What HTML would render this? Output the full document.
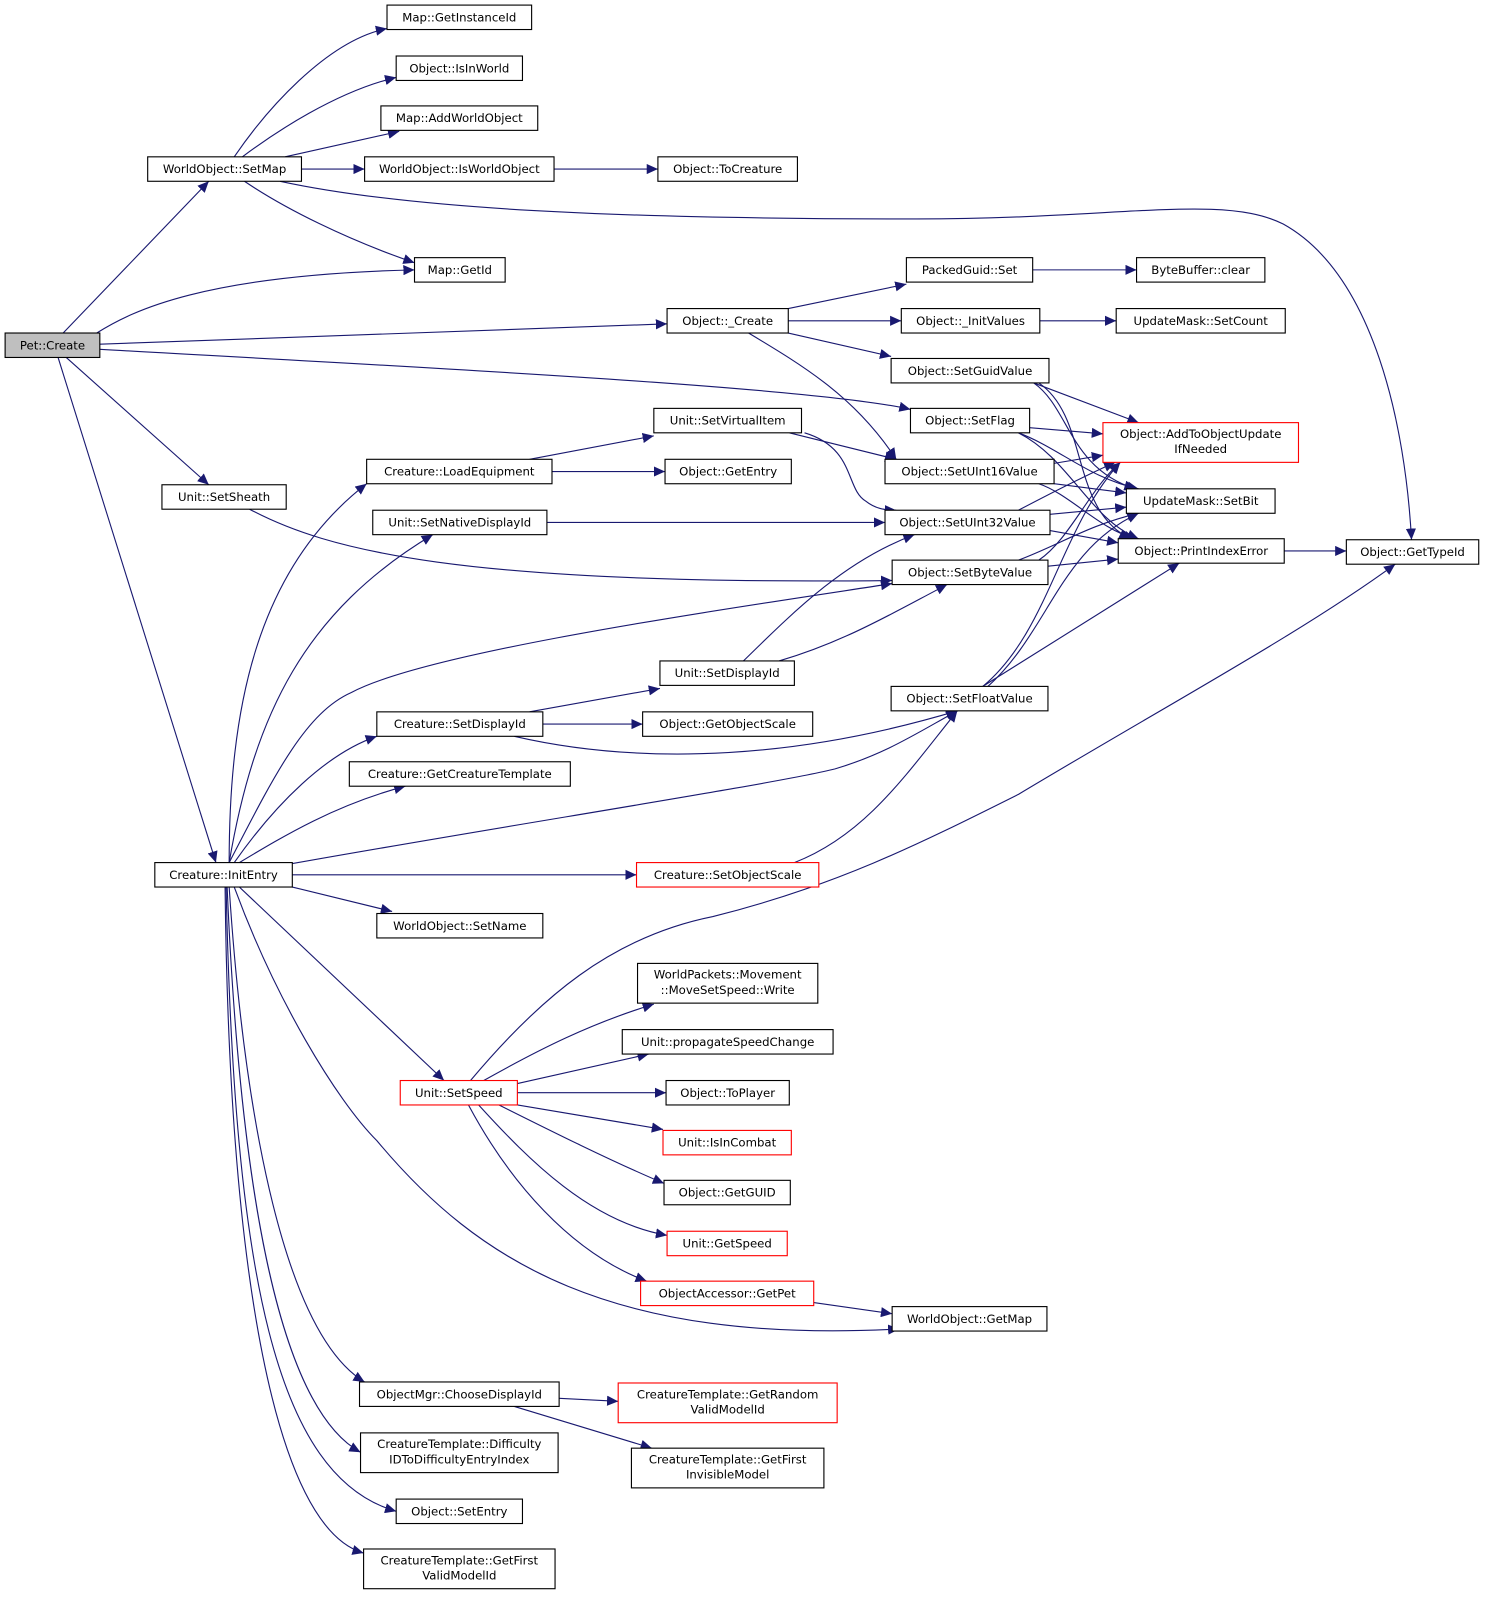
<!DOCTYPE html>
<html><head><meta charset="utf-8"><style>
html,body{margin:0;padding:0;background:#fff;}
svg{display:block;}
text{font-family:"DejaVu Sans","Liberation Sans",sans-serif;font-size:11.5px;fill:#000;}
.e{fill:none;stroke:#191970;stroke-width:1.1;marker-end:url(#a);}
.n{fill:#fff;stroke:#000;stroke-width:1.1;}
.r{fill:#fff;stroke:#ff0000;stroke-width:1.1;}
</style></head><body>
<svg width="1492" height="1605" viewBox="0 0 1465 1576" xmlns="http://www.w3.org/2000/svg">
<defs><marker id="a" markerUnits="userSpaceOnUse" markerWidth="12" markerHeight="10" refX="11" refY="5" orient="auto"><path d="M0,0 L11,5 L0,10 z" fill="#191970"/></marker></defs>
<g>
<path class="e" d="M62,327 L205,178"/>
<path class="e" d="M95,327 C130,305 200,270 407,265"/>
<path class="e" d="M98,338 L655,318"/>
<path class="e" d="M98,343 C400,360 800,380 894,402"/>
<path class="e" d="M65,351 L205,476"/>
<path class="e" d="M57,351 L212,847"/>
<path class="e" d="M230,154 C260,110 320,40 380,28"/>
<path class="e" d="M238,154 C270,130 330,90 389,76"/>
<path class="e" d="M280,154 L392,129"/>
<path class="e" d="M296,166 L358,166"/>
<path class="e" d="M240,178 C280,205 340,235 407,258"/>
<path class="e" d="M275,178 C400,205 600,215 900,215 C1100,215 1200,190 1260,220 C1350,270 1380,420 1386,530"/>
<path class="e" d="M544,166 L646,166"/>
<path class="e" d="M774,303 L890,279"/>
<path class="e" d="M774,315 L885,315"/>
<path class="e" d="M774,327 L875,350"/>
<path class="e" d="M735,327 C790,360 840,390 880,451"/>
<path class="e" d="M1014,265 L1116,265"/>
<path class="e" d="M1021,315 L1096,315"/>
<path class="e" d="M1015,376 L1118,415"/>
<path class="e" d="M1015,376 C1050,400 1050,460 1115,480"/>
<path class="e" d="M1020,376 C1070,410 1050,500 1110,529"/>
<path class="e" d="M1011,420 L1083,426"/>
<path class="e" d="M1000,425 C1040,440 1070,470 1118,480"/>
<path class="e" d="M1000,425 C1050,450 1070,510 1118,529"/>
<path class="e" d="M1035,455 L1083,447"/>
<path class="e" d="M1035,475 L1106,484"/>
<path class="e" d="M1020,475 C1050,485 1080,520 1115,529"/>
<path class="e" d="M1000,501 C1040,480 1070,465 1095,454"/>
<path class="e" d="M1031,505 L1106,498"/>
<path class="e" d="M1031,521 L1098,533"/>
<path class="e" d="M1020,550 C1050,530 1070,480 1100,454"/>
<path class="e" d="M1000,550 C1040,535 1070,515 1118,504"/>
<path class="e" d="M1029,556 L1098,549"/>
<path class="e" d="M965,674 C1030,620 1040,520 1100,454"/>
<path class="e" d="M970,674 C1030,620 1040,540 1118,504"/>
<path class="e" d="M965,674 L1158,553"/>
<path class="e" d="M1261,541 L1322,541"/>
<path class="e" d="M775,425 L880,451"/>
<path class="e" d="M790,425 C840,440 830,480 850,492 C860,500 870,501 880,501"/>
<path class="e" d="M520,451 L642,428"/>
<path class="e" d="M542,463 L653,463"/>
<path class="e" d="M245,500 C320,540 450,575 876,570"/>
<path class="e" d="M537,513 L869,513"/>
<path class="e" d="M730,649 C780,600 830,550 898,525"/>
<path class="e" d="M765,649 C830,630 880,600 930,574"/>
<path class="e" d="M520,699 L648,676"/>
<path class="e" d="M533,711 L631,711"/>
<path class="e" d="M505,723 C600,745 750,755 940,698"/>
<path class="e" d="M780,847 C850,820 890,760 940,698"/>
<path class="e" d="M225,847 C225,700 250,560 360,475"/>
<path class="e" d="M225,847 C250,700 300,600 425,525"/>
<path class="e" d="M225,847 C270,760 300,700 345,680 C420,640 700,600 876,573"/>
<path class="e" d="M230,847 C270,790 320,740 370,723"/>
<path class="e" d="M235,847 C280,820 330,790 398,772"/>
<path class="e" d="M287,848 C500,810 760,770 820,755 C870,740 900,720 940,698"/>
<path class="e" d="M287,859 L625,859"/>
<path class="e" d="M287,871 L385,895"/>
<path class="e" d="M235,871 L436,1061"/>
<path class="e" d="M230,871 C270,980 330,1080 370,1120 C470,1240 600,1320 883,1305"/>
<path class="e" d="M225,871 C240,1100 280,1310 358,1357"/>
<path class="e" d="M223,871 C235,1150 270,1380 354,1426"/>
<path class="e" d="M222,871 C230,1250 270,1450 389,1484"/>
<path class="e" d="M221,871 C225,1250 270,1500 357,1525"/>
<path class="e" d="M462,1061 C530,980 600,920 700,900 C820,870 900,830 1000,780 C1150,690 1280,620 1370,554"/>
<path class="e" d="M475,1061 C530,1030 580,1005 642,986"/>
<path class="e" d="M508,1064 L637,1035"/>
<path class="e" d="M508,1073 L654,1073"/>
<path class="e" d="M508,1085 L651,1109"/>
<path class="e" d="M490,1085 C540,1110 600,1140 652,1162"/>
<path class="e" d="M470,1085 C520,1140 580,1200 655,1213"/>
<path class="e" d="M460,1085 C500,1160 560,1230 635,1258"/>
<path class="e" d="M799,1279 L876,1290"/>
<path class="e" d="M549,1373 L607,1376"/>
<path class="e" d="M505,1381 L640,1422"/>
</g>
<g text-anchor="middle">
<rect x="5" y="327" width="93" height="24" fill="#bfbfbf" stroke="#000" stroke-width="1.1"/><text x="51.5" y="343">Pet::Create</text>
<rect class="n" x="145" y="154" width="151" height="24"/><text x="220.5" y="170">WorldObject::SetMap</text>
<rect class="n" x="380" y="5" width="142" height="24"/><text x="451" y="21">Map::GetInstanceId</text>
<rect class="n" x="389" y="55" width="124" height="24"/><text x="451" y="71">Object::IsInWorld</text>
<rect class="n" x="374" y="104" width="154" height="24"/><text x="451" y="120">Map::AddWorldObject</text>
<rect class="n" x="358" y="154" width="186" height="24"/><text x="451" y="170">WorldObject::IsWorldObject</text>
<rect class="n" x="646" y="154" width="137" height="24"/><text x="714.5" y="170">Object::ToCreature</text>
<rect class="n" x="407" y="253" width="89" height="24"/><text x="451.5" y="269">Map::GetId</text>
<rect class="n" x="655" y="303" width="119" height="24"/><text x="714.5" y="319">Object::_Create</text>
<rect class="n" x="890" y="253" width="124" height="24"/><text x="952" y="269">PackedGuid::Set</text>
<rect class="n" x="1116" y="253" width="126" height="24"/><text x="1179" y="269">ByteBuffer::clear</text>
<rect class="n" x="885" y="303" width="136" height="24"/><text x="953" y="319">Object::_InitValues</text>
<rect class="n" x="1096" y="303" width="166" height="24"/><text x="1179" y="319">UpdateMask::SetCount</text>
<rect class="n" x="875" y="352" width="155" height="24"/><text x="952.5" y="368">Object::SetGuidValue</text>
<rect class="n" x="894" y="401" width="117" height="24"/><text x="952.5" y="417">Object::SetFlag</text>
<rect class="r" x="1083" y="415" width="192" height="39"/><text x="1179" y="430">Object::AddToObjectUpdate</text><text x="1179" y="445">IfNeeded</text>
<rect class="n" x="642" y="401" width="145" height="24"/><text x="714.5" y="417">Unit::SetVirtualItem</text>
<rect class="n" x="360" y="451" width="182" height="24"/><text x="451" y="467">Creature::LoadEquipment</text>
<rect class="n" x="653" y="451" width="124" height="24"/><text x="715" y="467">Object::GetEntry</text>
<rect class="n" x="869" y="451" width="166" height="24"/><text x="952" y="467">Object::SetUInt16Value</text>
<rect class="n" x="1106" y="480" width="146" height="24"/><text x="1179" y="496">UpdateMask::SetBit</text>
<rect class="n" x="159" y="476" width="122" height="24"/><text x="220" y="492">Unit::SetSheath</text>
<rect class="n" x="366" y="501" width="171" height="24"/><text x="451.5" y="517">Unit::SetNativeDisplayId</text>
<rect class="n" x="869" y="501" width="162" height="24"/><text x="950" y="517">Object::SetUInt32Value</text>
<rect class="n" x="1098" y="529" width="163" height="24"/><text x="1179.5" y="545">Object::PrintIndexError</text>
<rect class="n" x="1322" y="530" width="130" height="24"/><text x="1387" y="546">Object::GetTypeId</text>
<rect class="n" x="876" y="550" width="153" height="24"/><text x="952.5" y="566">Object::SetByteValue</text>
<rect class="n" x="648" y="649" width="132" height="24"/><text x="714" y="665">Unit::SetDisplayId</text>
<rect class="n" x="875" y="674" width="154" height="24"/><text x="952" y="690">Object::SetFloatValue</text>
<rect class="n" x="370" y="699" width="163" height="24"/><text x="451.5" y="715">Creature::SetDisplayId</text>
<rect class="n" x="631" y="699" width="167" height="24"/><text x="714.5" y="715">Object::GetObjectScale</text>
<rect class="n" x="343" y="748" width="217" height="24"/><text x="451.5" y="764">Creature::GetCreatureTemplate</text>
<rect class="n" x="152" y="847" width="135" height="24"/><text x="219.5" y="863">Creature::InitEntry</text>
<rect class="r" x="625" y="847" width="179" height="24"/><text x="714.5" y="863">Creature::SetObjectScale</text>
<rect class="n" x="370" y="897" width="163" height="24"/><text x="451.5" y="913">WorldObject::SetName</text>
<rect class="n" x="626" y="946" width="177" height="39"/><text x="714.5" y="961">WorldPackets::Movement</text><text x="714.5" y="976">::MoveSetSpeed::Write</text>
<rect class="n" x="611" y="1011" width="207" height="24"/><text x="714.5" y="1027">Unit::propagateSpeedChange</text>
<rect class="r" x="393" y="1061" width="115" height="24"/><text x="450.5" y="1077">Unit::SetSpeed</text>
<rect class="n" x="654" y="1061" width="121" height="24"/><text x="714.5" y="1077">Object::ToPlayer</text>
<rect class="r" x="651" y="1110" width="126" height="24"/><text x="714" y="1126">Unit::IsInCombat</text>
<rect class="n" x="652" y="1159" width="124" height="24"/><text x="714" y="1175">Object::GetGUID</text>
<rect class="r" x="655" y="1209" width="118" height="24"/><text x="714" y="1225">Unit::GetSpeed</text>
<rect class="r" x="629" y="1258" width="170" height="24"/><text x="714" y="1274">ObjectAccessor::GetPet</text>
<rect class="n" x="876" y="1283" width="152" height="24"/><text x="952" y="1299">WorldObject::GetMap</text>
<rect class="n" x="353" y="1357" width="196" height="24"/><text x="451" y="1373">ObjectMgr::ChooseDisplayId</text>
<rect class="r" x="607" y="1358" width="215" height="39"/><text x="714.5" y="1373">CreatureTemplate::GetRandom</text><text x="714.5" y="1388">ValidModelId</text>
<rect class="n" x="354" y="1407" width="194" height="39"/><text x="451" y="1422">CreatureTemplate::Difficulty</text><text x="451" y="1437">IDToDifficultyEntryIndex</text>
<rect class="n" x="620" y="1422" width="189" height="39"/><text x="714.5" y="1437">CreatureTemplate::GetFirst</text><text x="714.5" y="1452">InvisibleModel</text>
<rect class="n" x="389" y="1472" width="124" height="24"/><text x="451" y="1488">Object::SetEntry</text>
<rect class="n" x="357" y="1521" width="188" height="39"/><text x="451" y="1536">CreatureTemplate::GetFirst</text><text x="451" y="1551">ValidModelId</text>
</g>
</svg>
</body></html>
